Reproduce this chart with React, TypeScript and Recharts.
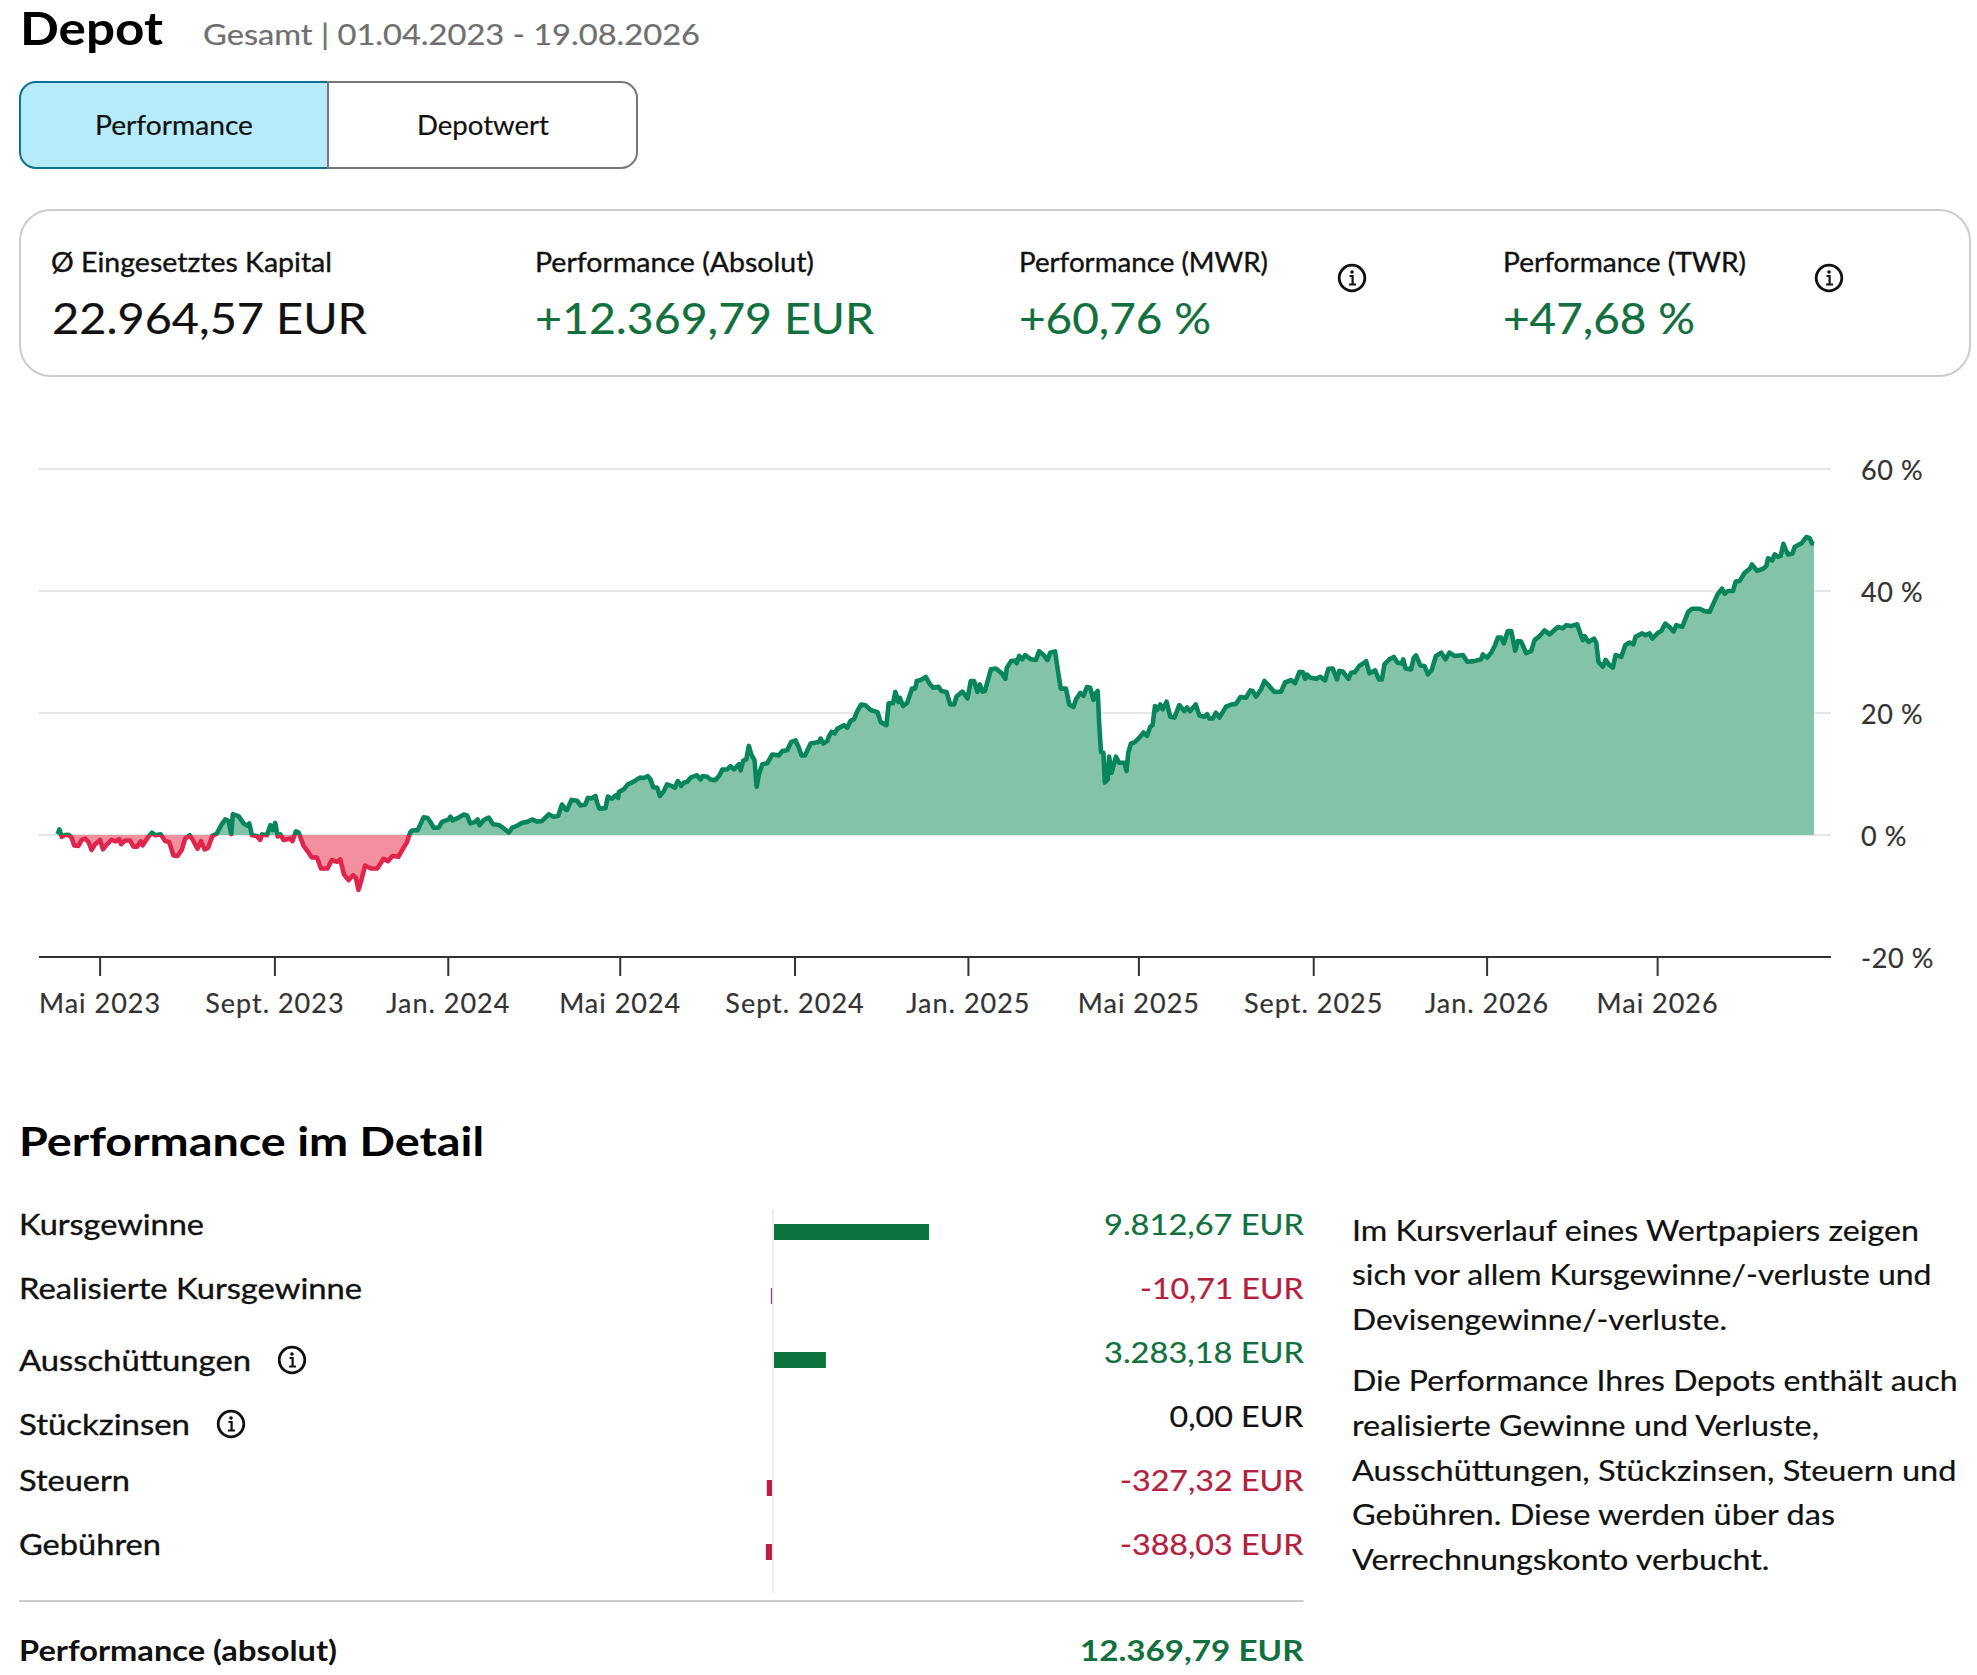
import React from 'react';
import { ComposedChart, Area, XAxis, YAxis, CartesianGrid, BarChart, Bar } from 'recharts';

const FONT = 'Lato, "Open Sans", sans-serif';
const INK = '#111111';
const AXIS = '#333333';
const GREEN_TEXT = '#12703f';
const RED_TEXT = '#b3213f';

// [days since 01.04.2023, performance in %]
const perf2023: number[][] = [
  [0,0.15],[1.4,0.9],[3,-0.3],[5.4,0],[7.7,0.05],[10,-0.45],[11.7,-1.7],[14.7,-1.8],[17,-0.8],[19.5,-0.6],[21.8,-1.15],[24,-2.45],[26.5,-1.5],[30,-0.8],[32,-2.35],[36,-1.25],[38,-0.8],[41,-1.05],[43.4,-0.7],[44.8,-1.5],[47.6,-0.9],[51,-0.9],[53.5,-1.9],[56,-1.9],[58.6,-1.05],[60,-1.7],[63,-0.6],[66.4,0.4],[68.7,-0.05],[72.7,0.1],[75.8,-1],[78.6,-1.15],[81.6,-3.35],[84.4,-3.45],[87.5,-2.45],[89.8,-0.6],[93,-0.05],[95,-0.7],[98.5,-2.25],[101,-1],[103.5,-2.35],[106,-2.1],[109,-0.15],[112,0.2],[115.6,1.75],[118,2.55],[120.4,2.3],[122.3,0.15],[123.4,3.4],[127.4,3.1],[131,1.9],[133.8,1.5],[135,1.9],[136.8,-0.05],[140.3,-0.15],[142.7,-0.8],[143.9,0.1],[147.4,-0.05],[149.8,1.6],[151.4,0.8],[153.2,2],[155,-0.25],[156.8,0.1],[159,-0.8],[163.8,-0.6],[165.4,-1],[167.8,0.6],[169.7,0.4],[173.2,-1.8],[176.7,-2.9],[179,-3.7],[182.6,-3.7],[185.4,-5.5],[190,-5.5],[193,-4.1],[196.7,-4.4],[199,-4],[201.6,-6.45],[204.8,-7.4],[208,-6.6],[210,-7],[211.8,-9],[214,-7.3],[216.4,-5],[220.5,-5.5],[225,-5.5],[229.4,-3.9],[232.5,-4.3],[235.7,-3.45],[240,-3.55],[243.5,-2.1],[245.8,-1.25],[248.2,0.4],[249.5,0.75],[253.5,0.8],[257.7,2.9],[260.5,2.8],[262.8,2],[264.7,1.2],[268.2,1.2],[270.6,2.15],
];
const perf2024: number[][] = [
  [275.3,2.55],[276.5,3],[278,2.4],[282.3,2.85],[285.9,3.35],[288.2,3.2],[290.5,1.9],[294,2.15],[295.7,2.55],[297,1.6],[300,2.45],[303.5,2.85],[306.5,1.75],[310.5,1.65],[314,1.1],[317.5,0.4],[320,1.2],[323.4,1.5],[327,2],[330.5,2.15],[334,2.55],[337.5,2.2],[341,2.3],[345.7,3.4],[349,3],[352.3,3.1],[355,5],[357.5,4.2],[358.6,4.1],[361.7,5.75],[365.7,5.6],[368,4.85],[371.5,5],[373.2,6.1],[375.5,6],[378.6,6.4],[379.7,5.3],[381.4,4.3],[385.6,4.4],[387.3,6.3],[390.3,5.95],[392.7,6.5],[394.5,6.1],[395,7.05],[398.5,7.5],[401.3,8.3],[403.2,8.5],[406.7,8.95],[409.8,9.4],[412.6,9.35],[415.4,9.65],[417.3,9.1],[419.2,7.85],[422,7.75],[423.9,6.4],[426.7,7.2],[429,8.3],[431.8,8.05],[434.4,7.75],[436.5,8.85],[438.9,8.05],[440.8,8.6],[443,8.7],[445.5,9.4],[450,9.8],[452.5,9.1],[454,9.65],[457.2,9.55],[459.5,9.1],[463,9],[465.9,9.8],[467.8,10.75],[471.3,10.75],[473.6,11.3],[476,10.75],[479.5,11.6],[480.7,10.6],[482.5,12.15],[484.7,12.4],[486.5,14.6],[488.2,13.2],[490.5,12.25],[492,7.9],[493.6,9.95],[496,11.6],[499.4,11.75],[503,13.2],[507.7,13.05],[510,13.75],[513.5,13.9],[516.3,15.25],[519.4,15.5],[521.7,14.3],[523.6,13.05],[526,13.05],[530,15],[535.8,15.25],[537,15.8],[538.9,15],[541.7,15.4],[542.9,16.2],[544.7,16.9],[546.9,16.65],[548.7,17.4],[553.4,18],[555.8,17.6],[558,18.7],[560.5,19],[562.8,20.3],[565.6,21.4],[568.7,21.25],[572.2,20.5],[577,20.15],[579.3,18.5],[583.3,18],[584.9,21.6],[588,21.6],[589.6,23.45],[591.8,21.8],[592.8,22.5],[595,21.15],[598,21.7],[601.3,24],[603.5,24],[604.7,25.25],[607.5,25.4],[611,25.9],[614,24.7],[616.2,24.15],[620,24.3],[622,23.6],[625.6,23.45],[628.2,21.4],[631,21.4],[632.6,22.7],[636.8,23.5],
];
const perf2025: number[][] = [
  [640.4,22.4],[642.7,25.25],[645,25.25],[647.4,23.45],[649,24.7],[651,23.5],[652.6,23.6],[656.8,27.15],[660.3,27.3],[664.5,26.5],[667,25.6],[668,27.4],[671,28.5],[674,28.6],[675,28.15],[676.7,29.35],[679,28.8],[681,29.5],[685,28.8],[688.5,28.7],[690.8,30.15],[693.9,29.5],[696.7,28.7],[698.6,29.9],[702,30.1],[704.2,26.6],[706,24],[709.6,24],[712,21.4],[715,21],[716.7,22.2],[719.7,23.3],[722,22.8],[724.4,24.25],[726.7,24.15],[729,22.15],[730,23.05],[732,23.6],[733,18.4],[734.3,13.6],[736,13.5],[737,8.6],[739,9.1],[740,12.85],[741.8,10.2],[744.8,12.85],[747,11.85],[750.7,11.85],[752.3,10.5],[753.5,13.5],[755.4,15],[757.7,15.15],[761.3,15.95],[764.3,16.8],[766.7,16.25],[769,17.75],[770.6,18],[772.3,21.15],[773.7,20.5],[776,21.4],[777.7,20.6],[780.5,21.85],[783,19.4],[786,19.25],[789.4,21.3],[793,20.3],[794.8,20.9],[797,20.3],[801,21.4],[803.5,19.6],[807,19.4],[809,19.8],[810.5,19.1],[813,19.1],[815.2,20.05],[817.6,19.25],[822.3,21.05],[826.3,21.4],[829.3,21.5],[832.4,22.6],[836.3,22.5],[839.4,23.7],[841,23.6],[843.4,22.7],[847,23.9],[849.3,25.25],[852.8,24.4],[856.3,23.45],[861,23.5],[863.8,25],[868,25.4],[870.9,24.9],[873.9,26.7],[876.3,26.7],[878,25.6],[879.3,26.3],[881.4,25.8],[885.6,25.6],[888.5,25.95],[892,25.35],[894.3,27.25],[897.4,27.3],[900.4,25.5],[902,26.9],[904.4,26.8],[908.4,25.6],[910.3,26.6],[913,26.7],[916,27.7],[919.7,28.25],[920.9,28.5],[923.2,26.5],[927.2,27],[929.8,25.5],[932,25.5],[933.8,28],[937.3,28.8],[940.3,29.2],[943,28.25],[946,28.1],[947,28.8],[948.6,27.3],[952.5,27.15],[954.4,29.05],[956,29.45],[959,27.8],[962,27.7],[964.3,26.35],[967,27.05],[970,29.35],[973.7,29.9],[976.7,28.8],[979.5,29.9],[983,29.35],[989,29.5],[992,28.4],[997,28.5],[1001.8,28.8],
];
const perf2026: number[][] = [
  [1003,29.6],[1006,29.05],[1008.9,29.9],[1011.2,30.9],[1013.6,32.35],[1015.9,32.35],[1017.8,31.4],[1020.6,33.45],[1023,33.45],[1025.8,30.2],[1027.6,31.8],[1030,31.7],[1033.5,29.8],[1037,30.15],[1039.4,31.95],[1042.9,32.6],[1046.4,33.55],[1050,32.9],[1055.8,34.1],[1059.3,33.9],[1061.7,34.4],[1065.2,34.25],[1069.4,34.55],[1071.8,32.9],[1073.4,31.95],[1074.6,32.6],[1077.4,31.65],[1081.2,32.2],[1082.8,31.55],[1084.4,28.35],[1087.5,27.6],[1089.4,28.7],[1092.2,27.8],[1094.5,27.45],[1096.4,29.5],[1100.4,29.2],[1103.2,31.1],[1106.3,31.55],[1109,31.25],[1110.5,32.5],[1115.2,33.05],[1117.5,32.75],[1120.4,33.05],[1122.2,32.2],[1126.2,33.15],[1128.6,33.45],[1131.4,34.65],[1134.4,34.1],[1137.3,33.35],[1139.1,34.4],[1143.4,34.15],[1147.4,36.55],[1150.2,37.1],[1155.6,37.1],[1159,36.7],[1162.6,36.55],[1165,37.8],[1168,39.35],[1171.3,40.4],[1173.2,39.55],[1175.5,40],[1179,40],[1181,41.55],[1183.7,41.65],[1187.3,43],[1190.8,43.65],[1192.4,44.35],[1196,43.3],[1200.2,43.65],[1202.5,44.1],[1203.7,45.35],[1206.7,45],[1208.4,46],[1210.7,45.6],[1212.6,45.75],[1214.5,47.75],[1216.1,46.8],[1217.8,46],[1220.8,46.1],[1222.5,47.25],[1227.2,47.8],[1230.7,48.85],[1233,48.65],[1234.7,47.8],[1236,47.68],
];

const perfRows = [...perf2023, ...perf2024, ...perf2025, ...perf2026].map(([day, pct]) => ({ day, pct }));
const allPct = perfRows.map((r) => r.pct);
const maxPct = Math.max(...allPct);
const minPct = Math.min(...allPct);
const zeroOffset = `${(maxPct / (maxPct - minPct)) * 100}%`;

const xTickDays = [30, 153, 275, 396, 519, 641, 761, 884, 1006, 1126];
const xTickLabels = ['Mai 2023', 'Sept. 2023', 'Jan. 2024', 'Mai 2024', 'Sept. 2024', 'Jan. 2025', 'Mai 2025', 'Sept. 2025', 'Jan. 2026', 'Mai 2026'];
const yTicks = [-20, 0, 20, 40, 60];

const detailCategories = ['Kursgewinne', 'Realisierte Kursgewinne', 'Ausschüttungen', 'Stückzinsen', 'Steuern', 'Gebühren'];
const detailAmounts = [9812.67, -10.71, 3283.18, 0, -327.32, -388.03];
const detailRows = detailCategories.map((name, i) => ({ name, amount: detailAmounts[i] }));

type TextSpec = [string, number, number, number, number, number?, string?];
// text, x, baseline, width, size, weight, colour
const texts: TextSpec[] = [
  ['Depot', 20, 45, 143, 46, 700, '#000'],
  ['Gesamt | 01.04.2023 - 19.08.2026', 203, 45, 497, 28, 400, '#6f6f6f'],
  ['Performance', 95, 135, 158, 26, 450, INK],
  ['Depotwert', 417, 135, 132, 26, 450, INK],
  ['Ø Eingesetztes Kapital', 51, 272, 281, 26, 500, INK],
  ['Performance (Absolut)', 535, 272, 279, 26, 500, INK],
  ['Performance (MWR)', 1019, 272, 249, 26, 500, INK],
  ['Performance (TWR)', 1503, 272, 243, 26, 500, INK],
  ['22.964,57 EUR', 52, 334, 315, 43, 400, INK],
  ['+12.369,79 EUR', 535, 334, 339, 43, 400, GREEN_TEXT],
  ['+60,76 %', 1019, 334, 192, 43, 400, GREEN_TEXT],
  ['+47,68 %', 1503, 334, 192, 43, 400, GREEN_TEXT],
  ['Performance im Detail', 19, 1156, 465, 41, 700, '#000'],
  ['Kursgewinne', 19, 1235, 185, 28, 500, INK],
  ['Realisierte Kursgewinne', 19, 1299, 343, 28, 500, INK],
  ['Ausschüttungen', 19, 1371, 232, 28, 500, INK],
  ['Stückzinsen', 19, 1435, 171, 28, 500, INK],
  ['Steuern', 19, 1491, 111, 28, 500, INK],
  ['Gebühren', 19, 1555, 142, 28, 500, INK],
  ['Performance (absolut)', 19, 1661, 318, 28, 700, INK],
  ['9.812,67 EUR', 1104, 1235, 200, 28, 400, GREEN_TEXT],
  ['-10,71 EUR', 1140, 1299, 163.5, 28, 400, RED_TEXT],
  ['3.283,18 EUR', 1104, 1363, 200, 28, 400, GREEN_TEXT],
  ['0,00 EUR', 1169.5, 1427, 134, 28, 400, INK],
  ['-327,32 EUR', 1120, 1491, 183.5, 28, 400, RED_TEXT],
  ['-388,03 EUR', 1120, 1555, 183.5, 28, 400, RED_TEXT],
  ['12.369,79 EUR', 1080, 1661, 223.5, 28, 700, GREEN_TEXT],
  ['Im Kursverlauf eines Wertpapiers zeigen', 1352, 1241, 567, 28, 400, INK],
  ['sich vor allem Kursgewinne/-verluste und', 1352, 1285, 579.5, 28, 400, INK],
  ['Devisengewinne/-verluste.', 1352, 1330, 375, 28, 400, INK],
  ['Die Performance Ihres Depots enthält auch', 1352, 1391, 605.6, 28, 400, INK],
  ['realisierte Gewinne und Verluste,', 1352, 1436, 467, 28, 400, INK],
  ['Ausschüttungen, Stückzinsen, Steuern und', 1352, 1481, 604.5, 28, 400, INK],
  ['Gebühren. Diese werden über das', 1352, 1525, 483, 28, 400, INK],
  ['Verrechnungskonto verbucht.', 1352, 1570, 417.5, 28, 400, INK],
];

const infoIcons = [[1352, 278], [1829, 278], [292, 1360], [231, 1424]];

const heaviness = (weight?: number) => (weight === 500 ? 0.35 : weight === 450 ? 0.2 : weight === 400 ? 0.2 : 0);

const InfoIcon = ({ cx, cy }: { cx: number; cy: number }) => (
  <g>
    <circle cx={cx} cy={cy} r={12.8} fill="#fff" stroke="#111" strokeWidth={2.8} />
    <circle cx={cx} cy={cy - 6} r={1.8} fill="#111" />
    <path d={`M${cx - 2.5} ${cy - 2}H${cx + 0.6}V${cy + 6.5}M${cx - 3} ${cy + 6.5}H${cx + 4}`} fill="none" stroke="#111" strokeWidth={2.2} />
  </g>
);

const Overlay = () => (
  <svg width={1977} height={1675} style={{ position: 'absolute', left: 0, top: 0 }}>
    <rect x={772} y={1209} width={2} height={384} fill="#eeeeee" />
    <rect x={19} y={1600} width={1284.5} height={2} fill="#cccccc" />
    <rect x={20} y={210} width={1950} height={166} rx={31} fill="none" stroke="#cccccc" strokeWidth={2} />
    <path d="M328 82H36a16 16 0 0 0-16 16V152a16 16 0 0 0 16 16H328Z" fill="#b5ebfb" stroke="#11708f" strokeWidth={2} />
    <path d="M328 82H621a16 16 0 0 1 16 16V152a16 16 0 0 1-16 16H328Z" fill="#fff" stroke="#777777" strokeWidth={2} />
    {texts.map(([t, x, y, w, size, weight, color]) => (
      <text
        key={t + x + y}
        x={x}
        y={y}
        textLength={w}
        lengthAdjust="spacingAndGlyphs"
        fontFamily={FONT}
        fontSize={size}
        fontWeight={weight === 700 ? 700 : 400}
        fill={color}
        stroke={color}
        strokeWidth={heaviness(weight)}
      >
        {t}
      </text>
    ))}
    {infoIcons.map(([cx, cy]) => (
      <InfoIcon key={`${cx}-${cy}`} cx={cx} cy={cy} />
    ))}
  </svg>
);

const XTick = ({ x, y, payload }: any) => (
  <text x={x} y={y + 37} textAnchor="middle" fontFamily={FONT} fontSize={27} letterSpacing={1} fill={AXIS} stroke={AXIS} strokeWidth={0.2}>
    {xTickLabels[xTickDays.indexOf(payload.value)]}
  </text>
);

const YTick = ({ y, payload }: any) => (
  <text x={1861} y={y + 11} fontFamily={FONT} fontSize={27} letterSpacing={0.6} fill={AXIS} stroke={AXIS} strokeWidth={0.2}>
    {`${payload.value} %`}
  </text>
);

const DetailBar = ({ x, y, width, height, payload }: any) => {
  const left = Math.min(x, x + width);
  const w = Math.abs(width);
  if (!payload.amount) return null;
  const positive = payload.amount > 0;
  return <rect x={positive ? left + 1 : left - 1 - (w < 1 ? 1 - w : 0)} y={y} width={Math.max(w, 1)} height={height} fill={positive ? '#0d733e' : '#b81f45'} />;
};

export default function App() {
  return (
    <div style={{ position: 'absolute', left: 0, top: 0, width: 1977, height: 1675, background: '#fff', overflow: 'hidden' }}>
      <Overlay />
      <div style={{ position: 'absolute', left: 0, top: 439 }}>
        <ComposedChart width={1977} height={590} data={perfRows} margin={{ top: 30, right: 0, bottom: 0, left: 39 }}>
          <defs>
            <linearGradient id="perfFill" x1="0" y1="0" x2="0" y2="1">
              <stop offset={zeroOffset} stopColor="#83c3aa" />
              <stop offset={zeroOffset} stopColor="#f2909f" />
            </linearGradient>
            <linearGradient id="perfStroke" x1="0" y1="0" x2="0" y2="1">
              <stop offset={zeroOffset} stopColor="#08855a" />
              <stop offset={zeroOffset} stopColor="#e0254d" />
            </linearGradient>
          </defs>
          <CartesianGrid horizontal vertical={false} stroke="#e6e6e6" strokeWidth={2} />
          <XAxis
            dataKey="day"
            type="number"
            domain={[-13, 1248]}
            ticks={xTickDays}
            interval={0}
            height={72}
            tickSize={19}
            tickMargin={0}
            tick={<XTick />}
            axisLine={{ stroke: AXIS, strokeWidth: 2 }}
            tickLine={{ stroke: AXIS, strokeWidth: 2 }}
          />
          <YAxis
            orientation="right"
            type="number"
            domain={[-20, 60]}
            ticks={yTicks}
            width={146}
            tick={<YTick />}
            axisLine={false}
            tickLine={false}
          />
          <Area
            dataKey="pct"
            type="linear"
            baseValue={0}
            fill="url(#perfFill)"
            fillOpacity={1}
            stroke="url(#perfStroke)"
            strokeWidth={4.6}
            strokeLinejoin="round"
            dot={false}
            activeDot={false}
            isAnimationActive={false}
          />
        </ComposedChart>
      </div>
      <div style={{ position: 'absolute', left: 700, top: 1200 }}>
        <BarChart width={300} height={392} layout="vertical" data={detailRows} margin={{ top: 0, right: 0, bottom: 0, left: 0 }} barSize={16}>
          <XAxis type="number" dataKey="amount" domain={[-4620, 14367]} hide />
          <YAxis type="category" dataKey="name" hide padding={{ top: 0, bottom: 8 }} />
          <Bar dataKey="amount" shape={<DetailBar />} isAnimationActive={false} />
        </BarChart>
      </div>
    </div>
  );
}
